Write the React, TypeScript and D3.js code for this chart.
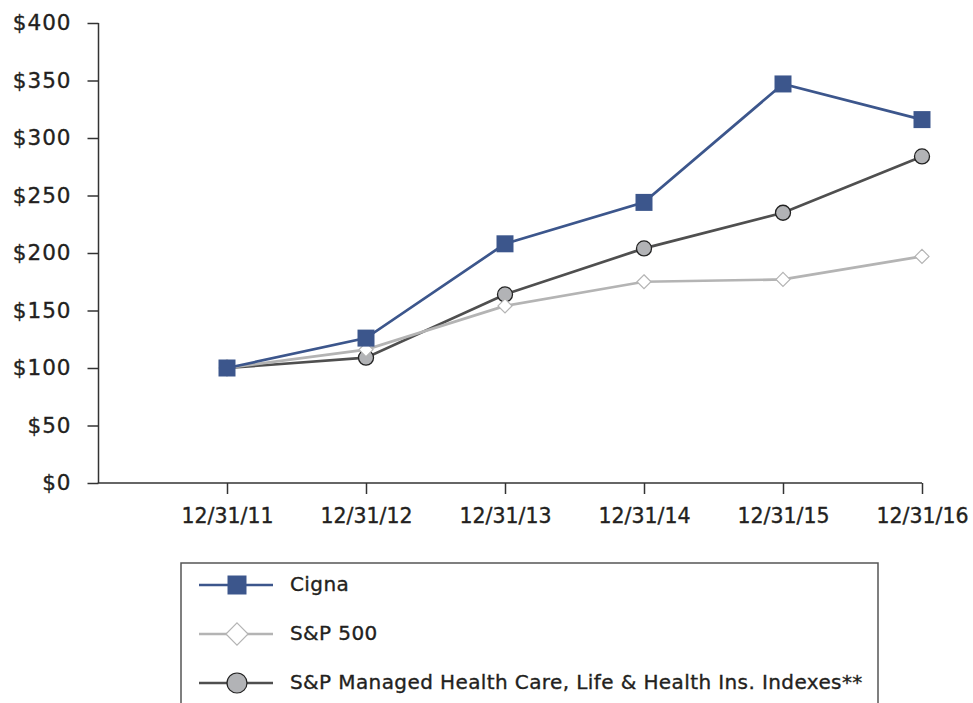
import * as d3 from 'd3';
import { useEffect, useRef } from 'react';

const dates = ['12/31/11', '12/31/12', '12/31/13', '12/31/14', '12/31/15', '12/31/16'];
const cigna = [100, 126, 208, 244, 347, 316];
const sp500 = [100, 116, 154, 175, 177, 197];
const managedCare = [100, 109, 164, 204, 235, 284];
const yTicks = [0, 50, 100, 150, 200, 250, 300, 350, 400];

const seriesNames = ['Cigna', 'S&P 500', 'S&P Managed Health Care, Life & Health Ins. Indexes**'];

const FONT = '"DejaVu Sans", sans-serif';
const BLUE = '#3c568c';
const LIGHT = '#b4b4b4';
const DARK = '#4f4f4f';
const TEXT = '#231f20';

const App = () => {
    const graphRef = useRef<SVGSVGElement | null>(null);

    useEffect(() => {
        const svg = d3.select(graphRef.current);
        svg.selectAll('*').remove();

        const axisLeft = 98.5;
        const axisBottom = 483;

        // scales
        const xScale = d3.scalePoint<string>()
            .domain(dates)
            .range([227, 922]);

        const yScale = d3.scaleLinear()
            .domain([0, 400])
            .range([axisBottom, 23]);

        // y axis
        const yAxis = d3.axisLeft(yScale)
            .tickValues(yTicks)
            .tickSize(11)
            .tickPadding(16)
            .tickFormat(d => `$${d}`);

        const gy = svg.append('g')
            .attr('transform', `translate(${axisLeft}, 0)`)
            .call(yAxis);
        gy.select('.domain').remove();
        gy.append('line')
            .attr('x1', 0).attr('x2', 0)
            .attr('y1', yScale(400)).attr('y2', axisBottom)
            .attr('stroke', '#333').attr('stroke-width', 1.5);
        gy.selectAll('.tick text')
            .style('font-size', '21.5px')
            .style('letter-spacing', '1px');

        // x axis
        const xAxis = d3.axisBottom(xScale)
            .tickSize(11)
            .tickPadding(14);

        const gx = svg.append('g')
            .attr('transform', `translate(0, ${axisBottom})`)
            .call(xAxis);
        gx.select('.domain').remove();
        gx.append('line')
            .attr('x1', axisLeft - 0.75).attr('x2', xScale(dates[dates.length - 1]))
            .attr('y1', 0).attr('y2', 0)
            .attr('stroke', '#333').attr('stroke-width', 1.5);
        gx.selectAll('.tick text')
            .style('font-size', '20.5px');

        svg.selectAll('.tick line').attr('stroke', '#333').attr('stroke-width', 1.5);
        svg.selectAll('.tick text')
            .attr('fill', TEXT)
            .attr('stroke', TEXT)
            .attr('stroke-width', 0.35)
            .style('font-family', FONT);

        const line = d3.line<number>()
            .x((d, i) => xScale(dates[i]) as number)
            .y(d => yScale(d));

        // managed care index (bottom layer)
        svg.append('path')
            .datum(managedCare)
            .attr('d', line)
            .attr('fill', 'none')
            .attr('stroke', DARK)
            .attr('stroke-width', 2.7);

        svg.append('path')
            .datum(sp500)
            .attr('d', line)
            .attr('fill', 'none')
            .attr('stroke', LIGHT)
            .attr('stroke-width', 2.7);

        svg.append('path')
            .datum(cigna)
            .attr('d', line)
            .attr('fill', 'none')
            .attr('stroke', BLUE)
            .attr('stroke-width', 2.7);

        const circleSymbol = d3.symbol().type(d3.symbolCircle).size(177);
        const diamondSymbol = d3.symbol().type(d3.symbolDiamond2).size(125);
        const squareSymbol = d3.symbol().type(d3.symbolSquare).size(289);

        svg.selectAll('.m-circle')
            .data(managedCare)
            .enter().append('path')
            .attr('class', 'm-circle')
            .attr('d', circleSymbol)
            .attr('transform', (d, i) => `translate(${xScale(dates[i])}, ${yScale(d)})`)
            .attr('fill', '#b2b3b6')
            .attr('stroke', '#222')
            .attr('stroke-width', 1.3);

        svg.selectAll('.m-diamond')
            .data(sp500)
            .enter().append('path')
            .attr('class', 'm-diamond')
            .attr('d', diamondSymbol)
            .attr('transform', (d, i) => `translate(${xScale(dates[i])}, ${yScale(d)})`)
            .attr('fill', '#fff')
            .attr('stroke', LIGHT)
            .attr('stroke-width', 1.2);

        svg.selectAll('.m-square')
            .data(cigna)
            .enter().append('path')
            .attr('class', 'm-square')
            .attr('d', squareSymbol)
            .attr('transform', (d, i) => `translate(${xScale(dates[i])}, ${yScale(d)})`)
            .attr('fill', BLUE);

        // legend
        const legend = svg.append('g');
        legend.append('rect')
            .attr('x', 181).attr('y', 563)
            .attr('width', 697).attr('height', 160)
            .attr('fill', 'none')
            .attr('stroke', '#555')
            .attr('stroke-width', 1.5);

        const legendStyles = [
            { stroke: BLUE, symbol: d3.symbol().type(d3.symbolSquare).size(361), fill: BLUE, outline: 'none' },
            { stroke: LIGHT, symbol: d3.symbol().type(d3.symbolDiamond2).size(312), fill: '#fff', outline: LIGHT },
            { stroke: DARK, symbol: d3.symbol().type(d3.symbolCircle).size(314), fill: '#b2b3b6', outline: '#222' },
        ];
        const legendY = d3.scaleLinear().domain([0, 2]).range([585, 683]);

        seriesNames.forEach((name, i) => {
            const y = legendY(i);
            const st = legendStyles[i];
            legend.append('line')
                .attr('x1', 199).attr('x2', 273)
                .attr('y1', y).attr('y2', y)
                .attr('stroke', st.stroke)
                .attr('stroke-width', 2.7);
            legend.append('path')
                .attr('d', st.symbol)
                .attr('transform', `translate(237, ${y})`)
                .attr('fill', st.fill)
                .attr('stroke', st.outline)
                .attr('stroke-width', 1.2);
            legend.append('text')
                .attr('x', 290)
                .attr('y', y)
                .attr('dy', '0.3em')
                .attr('fill', TEXT)
                .attr('stroke', TEXT)
                .attr('stroke-width', 0.35)
                .style('font-family', FONT)
                .style('font-size', '20px')
                .style('letter-spacing', '0.4px')
                .text(name);
        });
    }, []);

    return (
        <svg
            ref={graphRef}
            width="973"
            height="703"
            style={{ position: 'absolute', left: 0, top: 0, background: '#fff' }}
        ></svg>
    );
};

export default App;
